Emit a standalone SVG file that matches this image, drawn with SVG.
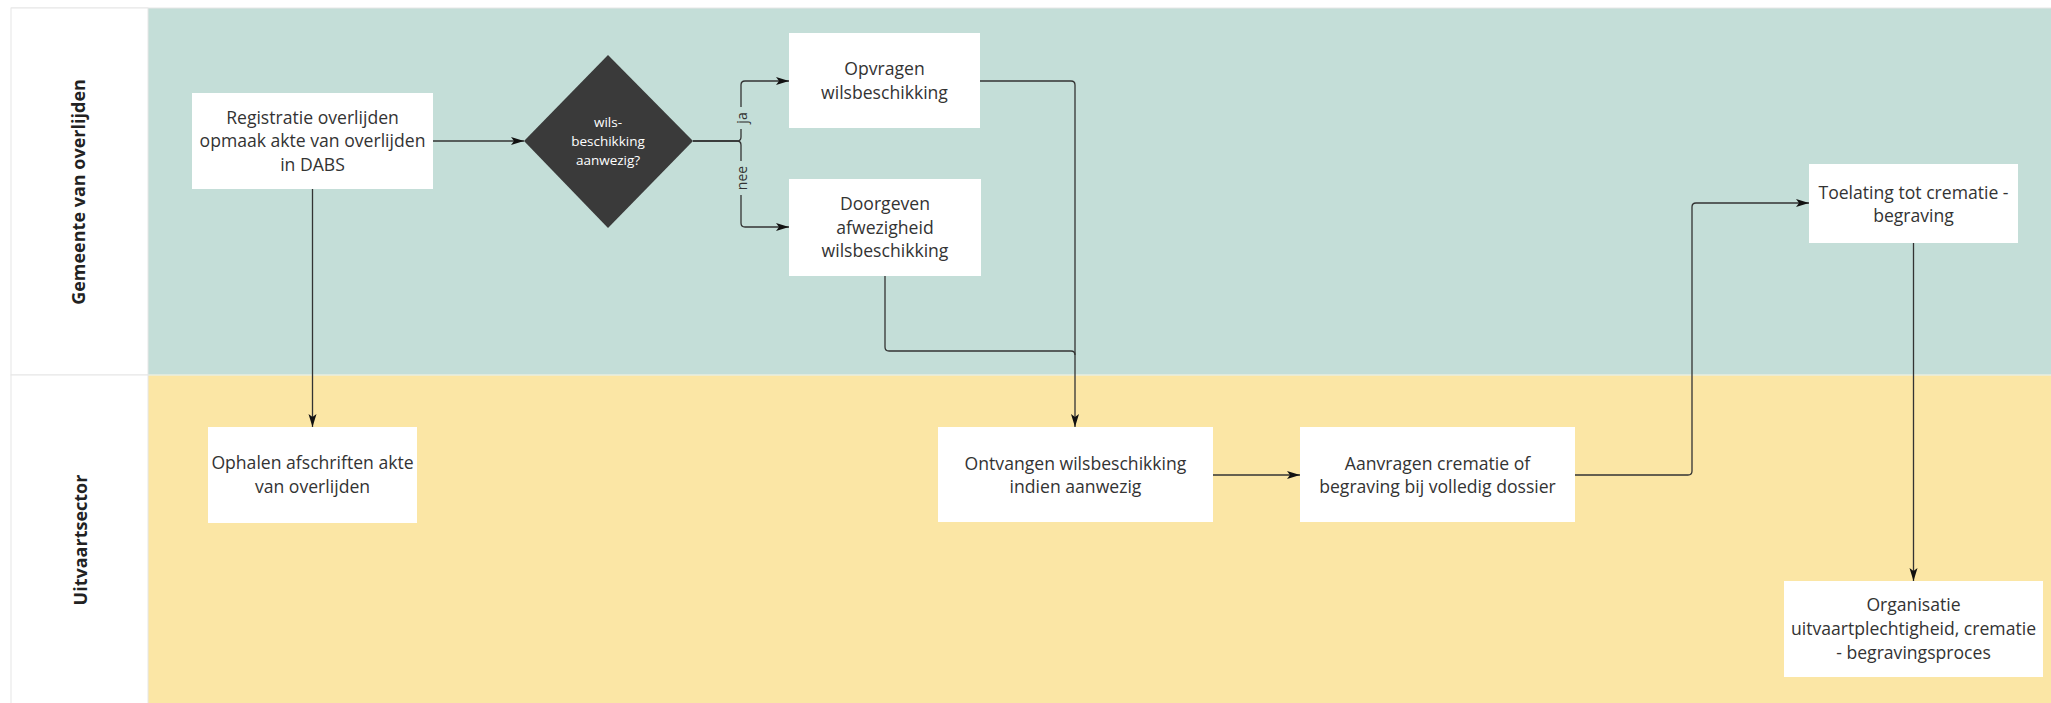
<svg xmlns="http://www.w3.org/2000/svg" width="2051" height="703" viewBox="0 0 2051 703">
<style>
.lanebg1{fill:#c4ded8}
.lanebg2{fill:#fbe6a5}
.hdr{fill:#ffffff;stroke:#e6e6e6;stroke-width:1}
.hdrtxt{font-family:"Open Sans","Noto Sans",sans-serif;font-weight:bold;font-size:18px;fill:#222;text-anchor:middle;dominant-baseline:central}
.box{fill:#ffffff}
.txt{font-family:"Open Sans","Noto Sans",sans-serif;font-size:17.6px;fill:#333;text-anchor:middle;dominant-baseline:central}
.dtxt{font-family:"Open Sans","Noto Sans",sans-serif;font-size:13.5px;fill:#ffffff;text-anchor:middle;dominant-baseline:central}
.lbl{font-family:"Open Sans","Noto Sans",sans-serif;font-size:14px;fill:#333;text-anchor:middle;dominant-baseline:central}
.con{fill:none;stroke:#333;stroke-width:1.3}
.arr{marker-end:url(#ah)}
</style>
<defs>
<marker id="ah" markerUnits="userSpaceOnUse" markerWidth="14" markerHeight="10" refX="13" refY="5" orient="auto">
<path d="M0,1 L13,5 L0,9 L3,5 Z" fill="#111"/>
</marker>
</defs>
<rect x="0" y="0" width="2051" height="703" fill="#ffffff"/>
<g id="lanes">
<rect class="lanebg1" x="148" y="8" width="1903" height="367"/>
<rect class="lanebg2" x="148" y="375" width="1903" height="328"/>
<line x1="11" y1="8" x2="2051" y2="8" stroke="#e6e6e6" stroke-width="1"/>
<line x1="148" y1="375" x2="2051" y2="375" stroke="#e9eee0" stroke-width="1.5"/>
<g id="lane1">
<rect class="hdr" x="11" y="8" width="137" height="367"/>
<text class="hdrtxt" transform="translate(78,192) rotate(-90)">Gemeente van overlijden</text>
</g>
<g id="lane2">
<rect class="hdr" x="11" y="375" width="137" height="340"/>
<text class="hdrtxt" transform="translate(80,540) rotate(-90)">Uitvaartsector</text>
</g>
</g>
<g id="connectors">
<path class="con arr" d="M433,141 H524"/>
<path class="con arr" d="M312.5,189 V427"/>
<path class="con arr" d="M693,141 H737 Q741,141 741,137 V85 Q741,81 745,81 H789"/>
<path class="con arr" d="M693,141 H737 Q741,141 741,145 V223 Q741,227 745,227 H789"/>
<path class="con arr" d="M980,81 H1071 Q1075,81 1075,85 V427"/>
<path class="con" d="M885,276 V347 Q885,351 889,351 H1071 Q1075,351 1075,355"/>
<path class="con arr" d="M1213,475 H1300"/>
<path class="con arr" d="M1575,475 H1688 Q1692,475 1692,471 V207 Q1692,203 1696,203 H1809"/>
<path class="con arr" d="M1913.5,243 V581"/>
<rect x="734" y="107" width="14" height="22" class="lanebg1"/>
<text class="lbl" transform="translate(741,118) rotate(-90)">ja</text>
<rect x="734" y="161" width="14" height="34" class="lanebg1"/>
<text class="lbl" transform="translate(741,178) rotate(-90)">nee</text>
</g>
<g id="n-registratie">
<rect class="box" x="192" y="93" width="241" height="96"/>
<text class="txt" x="312.5" y="117">Registratie overlijden</text>
<text class="txt" x="312.5" y="140">opmaak akte van overlijden</text>
<text class="txt" x="312.5" y="164">in DABS</text>
</g>
<g id="n-decision">
<path d="M608,55 L693,141 L608,228 L524,141 Z" fill="#3a3a3a"/>
<text class="dtxt" x="608" y="122">wils-</text>
<text class="dtxt" x="608" y="141">beschikking</text>
<text class="dtxt" x="608" y="160">aanwezig?</text>
</g>
<g id="n-opvragen">
<rect class="box" x="789" y="33" width="191" height="95"/>
<text class="txt" x="884.5" y="68">Opvragen</text>
<text class="txt" x="884.5" y="92">wilsbeschikking</text>
</g>
<g id="n-doorgeven">
<rect class="box" x="789" y="179" width="192" height="97"/>
<text class="txt" x="885" y="203">Doorgeven</text>
<text class="txt" x="885" y="227">afwezigheid</text>
<text class="txt" x="885" y="250">wilsbeschikking</text>
</g>
<g id="n-toelating">
<rect class="box" x="1809" y="164" width="209" height="79"/>
<text class="txt" x="1913.5" y="192">Toelating tot crematie -</text>
<text class="txt" x="1913.5" y="215">begraving</text>
</g>
<g id="n-ophalen">
<rect class="box" x="208" y="427" width="209" height="96"/>
<text class="txt" x="312.5" y="462">Ophalen afschriften akte</text>
<text class="txt" x="312.5" y="486">van overlijden</text>
</g>
<g id="n-ontvangen">
<rect class="box" x="938" y="427" width="275" height="95"/>
<text class="txt" x="1075.5" y="463">Ontvangen wilsbeschikking</text>
<text class="txt" x="1075.5" y="486">indien aanwezig</text>
</g>
<g id="n-aanvragen">
<rect class="box" x="1300" y="427" width="275" height="95"/>
<text class="txt" x="1437.5" y="463">Aanvragen crematie of</text>
<text class="txt" x="1437.5" y="486">begraving bij volledig dossier</text>
</g>
<g id="n-organisatie">
<rect class="box" x="1784" y="581" width="259" height="96"/>
<text class="txt" x="1913.5" y="604">Organisatie</text>
<text class="txt" x="1913.5" y="628">uitvaartplechtigheid, crematie</text>
<text class="txt" x="1913.5" y="652">- begravingsproces</text>
</g>
</svg>
